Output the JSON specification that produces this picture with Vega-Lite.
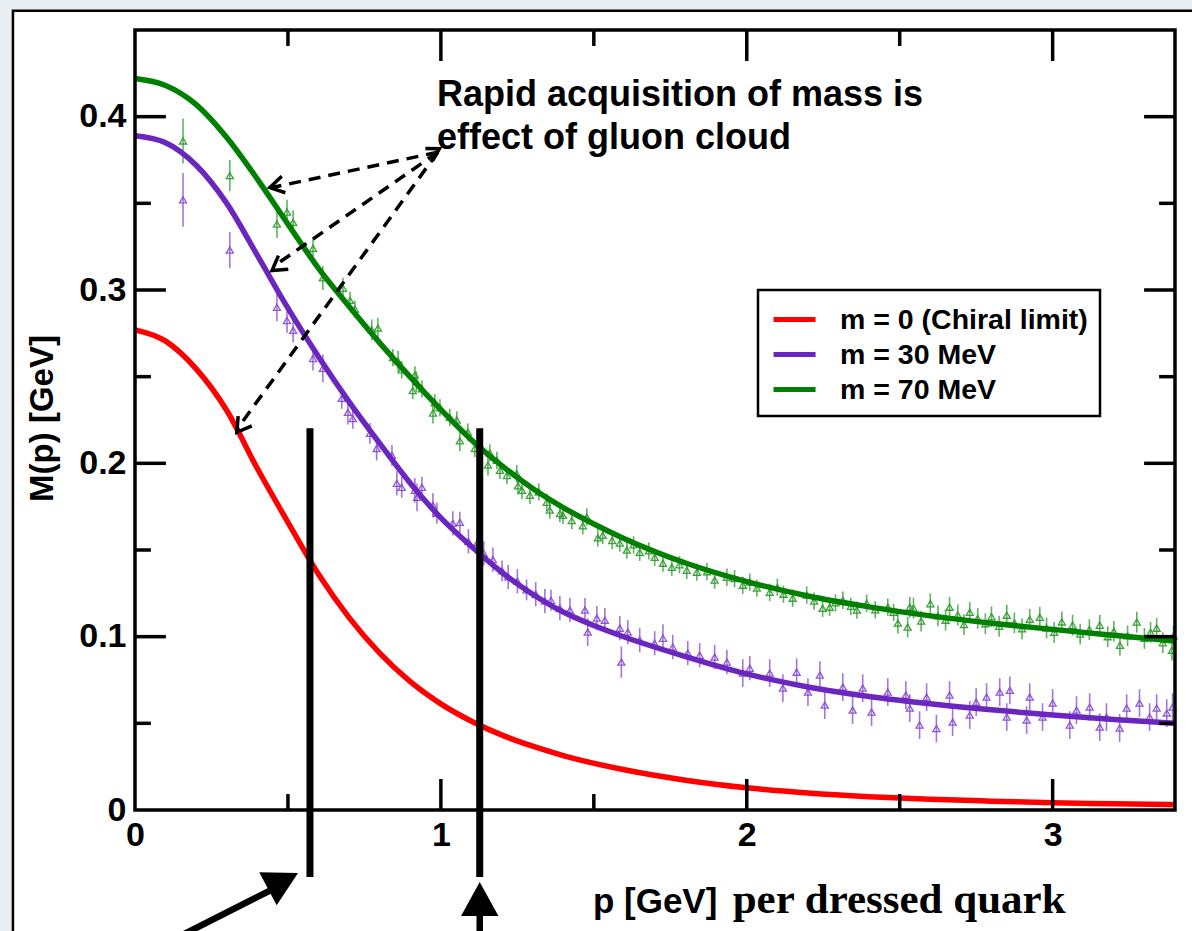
{
  "$schema": "https://vega.github.io/schema/vega-lite/v6.json",
  "width": 1040,
  "height": 780,
  "autosize": {"type": "none"},
  "padding": {"left": 135, "top": 30, "right": 17, "bottom": 121},
  "background": "#e8eef2",
  "config": {"view": {"stroke": null}, "font": "Liberation Sans"},
  "data": {"values": [{}]},
  "datasets": {
    "curves": [
      {"m": "m = 0 (Chiral limit)", "p": 0, "M": 0.277},
      {"m": "m = 0 (Chiral limit)", "p": 0.1, "M": 0.2705},
      {"m": "m = 0 (Chiral limit)", "p": 0.2, "M": 0.2545},
      {"m": "m = 0 (Chiral limit)", "p": 0.3, "M": 0.2305},
      {"m": "m = 0 (Chiral limit)", "p": 0.4, "M": 0.197},
      {"m": "m = 0 (Chiral limit)", "p": 0.5, "M": 0.166},
      {"m": "m = 0 (Chiral limit)", "p": 0.6, "M": 0.136},
      {"m": "m = 0 (Chiral limit)", "p": 0.7, "M": 0.111},
      {"m": "m = 0 (Chiral limit)", "p": 0.8, "M": 0.0905},
      {"m": "m = 0 (Chiral limit)", "p": 0.9, "M": 0.074},
      {"m": "m = 0 (Chiral limit)", "p": 1.0, "M": 0.0612},
      {"m": "m = 0 (Chiral limit)", "p": 1.1, "M": 0.0512},
      {"m": "m = 0 (Chiral limit)", "p": 1.2, "M": 0.0432},
      {"m": "m = 0 (Chiral limit)", "p": 1.3, "M": 0.0368},
      {"m": "m = 0 (Chiral limit)", "p": 1.4, "M": 0.0314},
      {"m": "m = 0 (Chiral limit)", "p": 1.6, "M": 0.0232},
      {"m": "m = 0 (Chiral limit)", "p": 1.8, "M": 0.0172},
      {"m": "m = 0 (Chiral limit)", "p": 2.0, "M": 0.0128},
      {"m": "m = 0 (Chiral limit)", "p": 2.2, "M": 0.0098},
      {"m": "m = 0 (Chiral limit)", "p": 2.4, "M": 0.0077},
      {"m": "m = 0 (Chiral limit)", "p": 2.6, "M": 0.0062},
      {"m": "m = 0 (Chiral limit)", "p": 2.8, "M": 0.0051},
      {"m": "m = 0 (Chiral limit)", "p": 3.0, "M": 0.0042},
      {"m": "m = 0 (Chiral limit)", "p": 3.2, "M": 0.0036},
      {"m": "m = 0 (Chiral limit)", "p": 3.4, "M": 0.0031},
      {"m": "m = 30 MeV", "p": 0, "M": 0.389},
      {"m": "m = 30 MeV", "p": 0.1, "M": 0.385},
      {"m": "m = 30 MeV", "p": 0.2, "M": 0.372},
      {"m": "m = 30 MeV", "p": 0.3, "M": 0.35},
      {"m": "m = 30 MeV", "p": 0.4, "M": 0.32},
      {"m": "m = 30 MeV", "p": 0.5, "M": 0.2895},
      {"m": "m = 30 MeV", "p": 0.6, "M": 0.2615},
      {"m": "m = 30 MeV", "p": 0.7, "M": 0.2355},
      {"m": "m = 30 MeV", "p": 0.8, "M": 0.2115},
      {"m": "m = 30 MeV", "p": 0.9, "M": 0.1885},
      {"m": "m = 30 MeV", "p": 1.0, "M": 0.1685},
      {"m": "m = 30 MeV", "p": 1.1, "M": 0.152},
      {"m": "m = 30 MeV", "p": 1.2, "M": 0.137},
      {"m": "m = 30 MeV", "p": 1.3, "M": 0.1245},
      {"m": "m = 30 MeV", "p": 1.4, "M": 0.1142},
      {"m": "m = 30 MeV", "p": 1.5, "M": 0.1064},
      {"m": "m = 30 MeV", "p": 1.6, "M": 0.0998},
      {"m": "m = 30 MeV", "p": 1.8, "M": 0.0885},
      {"m": "m = 30 MeV", "p": 2.0, "M": 0.0785},
      {"m": "m = 30 MeV", "p": 2.2, "M": 0.071},
      {"m": "m = 30 MeV", "p": 2.4, "M": 0.0655},
      {"m": "m = 30 MeV", "p": 2.6, "M": 0.0613},
      {"m": "m = 30 MeV", "p": 2.8, "M": 0.0578},
      {"m": "m = 30 MeV", "p": 3.0, "M": 0.0548},
      {"m": "m = 30 MeV", "p": 3.2, "M": 0.0522},
      {"m": "m = 30 MeV", "p": 3.4, "M": 0.05},
      {"m": "m = 70 MeV", "p": 0, "M": 0.422},
      {"m": "m = 70 MeV", "p": 0.1, "M": 0.418},
      {"m": "m = 70 MeV", "p": 0.2, "M": 0.407},
      {"m": "m = 70 MeV", "p": 0.3, "M": 0.388},
      {"m": "m = 70 MeV", "p": 0.4, "M": 0.364},
      {"m": "m = 70 MeV", "p": 0.5, "M": 0.338},
      {"m": "m = 70 MeV", "p": 0.6, "M": 0.3125},
      {"m": "m = 70 MeV", "p": 0.7, "M": 0.2905},
      {"m": "m = 70 MeV", "p": 0.8, "M": 0.2695},
      {"m": "m = 70 MeV", "p": 0.9, "M": 0.2497},
      {"m": "m = 70 MeV", "p": 1.0, "M": 0.231},
      {"m": "m = 70 MeV", "p": 1.1, "M": 0.2135},
      {"m": "m = 70 MeV", "p": 1.2, "M": 0.1985},
      {"m": "m = 70 MeV", "p": 1.3, "M": 0.1855},
      {"m": "m = 70 MeV", "p": 1.4, "M": 0.1745},
      {"m": "m = 70 MeV", "p": 1.5, "M": 0.165},
      {"m": "m = 70 MeV", "p": 1.6, "M": 0.1565},
      {"m": "m = 70 MeV", "p": 1.8, "M": 0.1425},
      {"m": "m = 70 MeV", "p": 2.0, "M": 0.1318},
      {"m": "m = 70 MeV", "p": 2.2, "M": 0.1235},
      {"m": "m = 70 MeV", "p": 2.4, "M": 0.1172},
      {"m": "m = 70 MeV", "p": 2.6, "M": 0.112},
      {"m": "m = 70 MeV", "p": 2.8, "M": 0.1078},
      {"m": "m = 70 MeV", "p": 3.0, "M": 0.1042},
      {"m": "m = 70 MeV", "p": 3.2, "M": 0.1008},
      {"m": "m = 70 MeV", "p": 3.4, "M": 0.0975}
    ],
    "lattice": [
      {"m": "m = 70 MeV", "p": 0.157, "M": 0.386, "err": 0.013},
      {"m": "m = 70 MeV", "p": 0.31, "M": 0.366, "err": 0.009},
      {"m": "m = 70 MeV", "p": 0.464, "M": 0.338, "err": 0.008},
      {"m": "m = 70 MeV", "p": 0.497, "M": 0.345, "err": 0.007},
      {"m": "m = 70 MeV", "p": 0.517, "M": 0.339, "err": 0.007},
      {"m": "m = 70 MeV", "p": 0.582, "M": 0.324, "err": 0.006},
      {"m": "m = 70 MeV", "p": 0.614, "M": 0.307, "err": 0.007},
      {"m": "m = 70 MeV", "p": 0.68, "M": 0.301, "err": 0.006},
      {"m": "m = 70 MeV", "p": 0.703, "M": 0.294, "err": 0.005},
      {"m": "m = 70 MeV", "p": 0.719, "M": 0.289, "err": 0.005},
      {"m": "m = 70 MeV", "p": 0.774, "M": 0.277, "err": 0.006},
      {"m": "m = 70 MeV", "p": 0.794, "M": 0.278, "err": 0.006},
      {"m": "m = 70 MeV", "p": 0.843, "M": 0.261, "err": 0.005},
      {"m": "m = 70 MeV", "p": 0.86, "M": 0.259, "err": 0.006},
      {"m": "m = 70 MeV", "p": 0.872, "M": 0.254, "err": 0.005},
      {"m": "m = 70 MeV", "p": 0.908, "M": 0.242, "err": 0.005},
      {"m": "m = 70 MeV", "p": 0.915, "M": 0.251, "err": 0.005},
      {"m": "m = 70 MeV", "p": 0.92, "M": 0.247, "err": 0.006},
      {"m": "m = 70 MeV", "p": 0.938, "M": 0.243, "err": 0.005},
      {"m": "m = 70 MeV", "p": 0.974, "M": 0.229, "err": 0.006},
      {"m": "m = 70 MeV", "p": 0.98, "M": 0.235, "err": 0.005},
      {"m": "m = 70 MeV", "p": 0.997, "M": 0.232, "err": 0.005},
      {"m": "m = 70 MeV", "p": 1.029, "M": 0.2265, "err": 0.005},
      {"m": "m = 70 MeV", "p": 1.052, "M": 0.225, "err": 0.005},
      {"m": "m = 70 MeV", "p": 1.062, "M": 0.213, "err": 0.006},
      {"m": "m = 70 MeV", "p": 1.088, "M": 0.218, "err": 0.005},
      {"m": "m = 70 MeV", "p": 1.111, "M": 0.2086, "err": 0.005},
      {"m": "m = 70 MeV", "p": 1.154, "M": 0.199, "err": 0.006},
      {"m": "m = 70 MeV", "p": 1.16, "M": 0.206, "err": 0.005},
      {"m": "m = 70 MeV", "p": 1.183, "M": 0.2017, "err": 0.005},
      {"m": "m = 70 MeV", "p": 1.193, "M": 0.196, "err": 0.005},
      {"m": "m = 70 MeV", "p": 1.216, "M": 0.193, "err": 0.005},
      {"m": "m = 70 MeV", "p": 1.248, "M": 0.194, "err": 0.005},
      {"m": "m = 70 MeV", "p": 1.252, "M": 0.187, "err": 0.005},
      {"m": "m = 70 MeV", "p": 1.265, "M": 0.1844, "err": 0.005},
      {"m": "m = 70 MeV", "p": 1.291, "M": 0.1816, "err": 0.005},
      {"m": "m = 70 MeV", "p": 1.32, "M": 0.1835, "err": 0.005},
      {"m": "m = 70 MeV", "p": 1.346, "M": 0.1775, "err": 0.005},
      {"m": "m = 70 MeV", "p": 1.356, "M": 0.173, "err": 0.005},
      {"m": "m = 70 MeV", "p": 1.389, "M": 0.171, "err": 0.005},
      {"m": "m = 70 MeV", "p": 1.399, "M": 0.17, "err": 0.005},
      {"m": "m = 70 MeV", "p": 1.428, "M": 0.167, "err": 0.005},
      {"m": "m = 70 MeV", "p": 1.464, "M": 0.164, "err": 0.005},
      {"m": "m = 70 MeV", "p": 1.477, "M": 0.169, "err": 0.005},
      {"m": "m = 70 MeV", "p": 1.513, "M": 0.157, "err": 0.005},
      {"m": "m = 70 MeV", "p": 1.529, "M": 0.1585, "err": 0.005},
      {"m": "m = 70 MeV", "p": 1.56, "M": 0.1555, "err": 0.005},
      {"m": "m = 70 MeV", "p": 1.585, "M": 0.154, "err": 0.005},
      {"m": "m = 70 MeV", "p": 1.608, "M": 0.15, "err": 0.005},
      {"m": "m = 70 MeV", "p": 1.63, "M": 0.153, "err": 0.005},
      {"m": "m = 70 MeV", "p": 1.65, "M": 0.1487, "err": 0.005},
      {"m": "m = 70 MeV", "p": 1.68, "M": 0.1495, "err": 0.005},
      {"m": "m = 70 MeV", "p": 1.699, "M": 0.1458, "err": 0.005},
      {"m": "m = 70 MeV", "p": 1.726, "M": 0.1424, "err": 0.005},
      {"m": "m = 70 MeV", "p": 1.755, "M": 0.14, "err": 0.005},
      {"m": "m = 70 MeV", "p": 1.78, "M": 0.1415, "err": 0.005},
      {"m": "m = 70 MeV", "p": 1.804, "M": 0.1383, "err": 0.005},
      {"m": "m = 70 MeV", "p": 1.837, "M": 0.1372, "err": 0.005},
      {"m": "m = 70 MeV", "p": 1.87, "M": 0.1375, "err": 0.005},
      {"m": "m = 70 MeV", "p": 1.895, "M": 0.1326, "err": 0.005},
      {"m": "m = 70 MeV", "p": 1.935, "M": 0.1343, "err": 0.005},
      {"m": "m = 70 MeV", "p": 1.96, "M": 0.1335, "err": 0.005},
      {"m": "m = 70 MeV", "p": 1.987, "M": 0.1297, "err": 0.005},
      {"m": "m = 70 MeV", "p": 2.01, "M": 0.1315, "err": 0.005},
      {"m": "m = 70 MeV", "p": 2.033, "M": 0.128, "err": 0.005},
      {"m": "m = 70 MeV", "p": 2.075, "M": 0.1256, "err": 0.005},
      {"m": "m = 70 MeV", "p": 2.1, "M": 0.1285, "err": 0.005},
      {"m": "m = 70 MeV", "p": 2.12, "M": 0.1245, "err": 0.005},
      {"m": "m = 70 MeV", "p": 2.15, "M": 0.1222, "err": 0.005},
      {"m": "m = 70 MeV", "p": 2.196, "M": 0.124, "err": 0.005},
      {"m": "m = 70 MeV", "p": 2.22, "M": 0.1205, "err": 0.005},
      {"m": "m = 70 MeV", "p": 2.248, "M": 0.1164, "err": 0.005},
      {"m": "m = 70 MeV", "p": 2.271, "M": 0.117, "err": 0.005},
      {"m": "m = 70 MeV", "p": 2.29, "M": 0.1195, "err": 0.005},
      {"m": "m = 70 MeV", "p": 2.314, "M": 0.121, "err": 0.005},
      {"m": "m = 70 MeV", "p": 2.34, "M": 0.1175, "err": 0.005},
      {"m": "m = 70 MeV", "p": 2.36, "M": 0.1153, "err": 0.005},
      {"m": "m = 70 MeV", "p": 2.392, "M": 0.1193, "err": 0.005},
      {"m": "m = 70 MeV", "p": 2.42, "M": 0.1155, "err": 0.005},
      {"m": "m = 70 MeV", "p": 2.461, "M": 0.117, "err": 0.005},
      {"m": "m = 70 MeV", "p": 2.48, "M": 0.114, "err": 0.005},
      {"m": "m = 70 MeV", "p": 2.494, "M": 0.1078, "err": 0.006},
      {"m": "m = 70 MeV", "p": 2.526, "M": 0.1055, "err": 0.006},
      {"m": "m = 70 MeV", "p": 2.533, "M": 0.117, "err": 0.006},
      {"m": "m = 70 MeV", "p": 2.545, "M": 0.1165, "err": 0.006},
      {"m": "m = 70 MeV", "p": 2.57, "M": 0.109, "err": 0.006},
      {"m": "m = 70 MeV", "p": 2.6, "M": 0.119, "err": 0.006},
      {"m": "m = 70 MeV", "p": 2.625, "M": 0.112, "err": 0.006},
      {"m": "m = 70 MeV", "p": 2.65, "M": 0.1095, "err": 0.006},
      {"m": "m = 70 MeV", "p": 2.663, "M": 0.117, "err": 0.006},
      {"m": "m = 70 MeV", "p": 2.69, "M": 0.1125, "err": 0.006},
      {"m": "m = 70 MeV", "p": 2.71, "M": 0.107, "err": 0.006},
      {"m": "m = 70 MeV", "p": 2.729, "M": 0.114, "err": 0.006},
      {"m": "m = 70 MeV", "p": 2.755, "M": 0.1105, "err": 0.006},
      {"m": "m = 70 MeV", "p": 2.78, "M": 0.1075, "err": 0.006},
      {"m": "m = 70 MeV", "p": 2.8, "M": 0.1115, "err": 0.006},
      {"m": "m = 70 MeV", "p": 2.825, "M": 0.106, "err": 0.006},
      {"m": "m = 70 MeV", "p": 2.85, "M": 0.1124, "err": 0.006},
      {"m": "m = 70 MeV", "p": 2.875, "M": 0.108, "err": 0.006},
      {"m": "m = 70 MeV", "p": 2.9, "M": 0.1045, "err": 0.006},
      {"m": "m = 70 MeV", "p": 2.925, "M": 0.11, "err": 0.006},
      {"m": "m = 70 MeV", "p": 2.958, "M": 0.1112, "err": 0.006},
      {"m": "m = 70 MeV", "p": 2.98, "M": 0.105, "err": 0.006},
      {"m": "m = 70 MeV", "p": 3.005, "M": 0.1025, "err": 0.006},
      {"m": "m = 70 MeV", "p": 3.03, "M": 0.1085, "err": 0.006},
      {"m": "m = 70 MeV", "p": 3.065, "M": 0.1066, "err": 0.006},
      {"m": "m = 70 MeV", "p": 3.09, "M": 0.1015, "err": 0.006},
      {"m": "m = 70 MeV", "p": 3.12, "M": 0.104, "err": 0.006},
      {"m": "m = 70 MeV", "p": 3.154, "M": 0.1066, "err": 0.006},
      {"m": "m = 70 MeV", "p": 3.18, "M": 0.1, "err": 0.006},
      {"m": "m = 70 MeV", "p": 3.2, "M": 0.103, "err": 0.006},
      {"m": "m = 70 MeV", "p": 3.22, "M": 0.095, "err": 0.006},
      {"m": "m = 70 MeV", "p": 3.245, "M": 0.1005, "err": 0.006},
      {"m": "m = 70 MeV", "p": 3.275, "M": 0.1084, "err": 0.006},
      {"m": "m = 70 MeV", "p": 3.3, "M": 0.099, "err": 0.006},
      {"m": "m = 70 MeV", "p": 3.32, "M": 0.1025, "err": 0.006},
      {"m": "m = 70 MeV", "p": 3.34, "M": 0.1049, "err": 0.006},
      {"m": "m = 70 MeV", "p": 3.36, "M": 0.0965, "err": 0.006},
      {"m": "m = 70 MeV", "p": 3.39, "M": 0.0922, "err": 0.006},
      {"m": "m = 70 MeV", "p": 3.395, "M": 0.1005, "err": 0.006},
      {"m": "m = 30 MeV", "p": 0.157, "M": 0.352, "err": 0.0155},
      {"m": "m = 30 MeV", "p": 0.31, "M": 0.323, "err": 0.0105},
      {"m": "m = 30 MeV", "p": 0.464, "M": 0.29, "err": 0.008},
      {"m": "m = 30 MeV", "p": 0.497, "M": 0.2824, "err": 0.007},
      {"m": "m = 30 MeV", "p": 0.517, "M": 0.2767, "err": 0.007},
      {"m": "m = 30 MeV", "p": 0.582, "M": 0.2605, "err": 0.007},
      {"m": "m = 30 MeV", "p": 0.614, "M": 0.2548, "err": 0.008},
      {"m": "m = 30 MeV", "p": 0.676, "M": 0.2375, "err": 0.006},
      {"m": "m = 30 MeV", "p": 0.696, "M": 0.2294, "err": 0.007},
      {"m": "m = 30 MeV", "p": 0.712, "M": 0.2259, "err": 0.006},
      {"m": "m = 30 MeV", "p": 0.768, "M": 0.2173, "err": 0.006},
      {"m": "m = 30 MeV", "p": 0.79, "M": 0.2086, "err": 0.007},
      {"m": "m = 30 MeV", "p": 0.84, "M": 0.2046, "err": 0.006},
      {"m": "m = 30 MeV", "p": 0.856, "M": 0.1885, "err": 0.007},
      {"m": "m = 30 MeV", "p": 0.872, "M": 0.1862, "err": 0.006},
      {"m": "m = 30 MeV", "p": 0.915, "M": 0.1844, "err": 0.007},
      {"m": "m = 30 MeV", "p": 0.922, "M": 0.1804, "err": 0.008},
      {"m": "m = 30 MeV", "p": 0.938, "M": 0.1862, "err": 0.006},
      {"m": "m = 30 MeV", "p": 0.974, "M": 0.1758, "err": 0.007},
      {"m": "m = 30 MeV", "p": 0.987, "M": 0.1712, "err": 0.006},
      {"m": "m = 30 MeV", "p": 1.039, "M": 0.1654, "err": 0.007},
      {"m": "m = 30 MeV", "p": 1.062, "M": 0.166, "err": 0.006},
      {"m": "m = 30 MeV", "p": 1.09, "M": 0.155, "err": 0.007},
      {"m": "m = 30 MeV", "p": 1.12, "M": 0.1545, "err": 0.006},
      {"m": "m = 30 MeV", "p": 1.14, "M": 0.148, "err": 0.007},
      {"m": "m = 30 MeV", "p": 1.17, "M": 0.1445, "err": 0.007},
      {"m": "m = 30 MeV", "p": 1.2, "M": 0.138, "err": 0.006},
      {"m": "m = 30 MeV", "p": 1.22, "M": 0.1345, "err": 0.007},
      {"m": "m = 30 MeV", "p": 1.25, "M": 0.132, "err": 0.007},
      {"m": "m = 30 MeV", "p": 1.28, "M": 0.127, "err": 0.006},
      {"m": "m = 30 MeV", "p": 1.31, "M": 0.1245, "err": 0.007},
      {"m": "m = 30 MeV", "p": 1.34, "M": 0.1205, "err": 0.007},
      {"m": "m = 30 MeV", "p": 1.36, "M": 0.121, "err": 0.006},
      {"m": "m = 30 MeV", "p": 1.389, "M": 0.1164, "err": 0.007},
      {"m": "m = 30 MeV", "p": 1.422, "M": 0.1153, "err": 0.007},
      {"m": "m = 30 MeV", "p": 1.471, "M": 0.1153, "err": 0.007},
      {"m": "m = 30 MeV", "p": 1.48, "M": 0.1026, "err": 0.008},
      {"m": "m = 30 MeV", "p": 1.51, "M": 0.1107, "err": 0.007},
      {"m": "m = 30 MeV", "p": 1.536, "M": 0.1095, "err": 0.007},
      {"m": "m = 30 MeV", "p": 1.585, "M": 0.1049, "err": 0.007},
      {"m": "m = 30 MeV", "p": 1.59, "M": 0.0853, "err": 0.009},
      {"m": "m = 30 MeV", "p": 1.611, "M": 0.1026, "err": 0.007},
      {"m": "m = 30 MeV", "p": 1.65, "M": 0.098, "err": 0.007},
      {"m": "m = 30 MeV", "p": 1.699, "M": 0.0962, "err": 0.007},
      {"m": "m = 30 MeV", "p": 1.726, "M": 0.0991, "err": 0.008},
      {"m": "m = 30 MeV", "p": 1.758, "M": 0.094, "err": 0.007},
      {"m": "m = 30 MeV", "p": 1.807, "M": 0.0905, "err": 0.007},
      {"m": "m = 30 MeV", "p": 1.846, "M": 0.0893, "err": 0.007},
      {"m": "m = 30 MeV", "p": 1.895, "M": 0.0882, "err": 0.007},
      {"m": "m = 30 MeV", "p": 1.935, "M": 0.0853, "err": 0.007},
      {"m": "m = 30 MeV", "p": 1.987, "M": 0.079, "err": 0.008},
      {"m": "m = 30 MeV", "p": 2.01, "M": 0.0818, "err": 0.007},
      {"m": "m = 30 MeV", "p": 2.075, "M": 0.079, "err": 0.008},
      {"m": "m = 30 MeV", "p": 2.118, "M": 0.0703, "err": 0.008},
      {"m": "m = 30 MeV", "p": 2.163, "M": 0.0795, "err": 0.008},
      {"m": "m = 30 MeV", "p": 2.2, "M": 0.068, "err": 0.008},
      {"m": "m = 30 MeV", "p": 2.239, "M": 0.0778, "err": 0.008},
      {"m": "m = 30 MeV", "p": 2.255, "M": 0.0605, "err": 0.008},
      {"m": "m = 30 MeV", "p": 2.314, "M": 0.0709, "err": 0.008},
      {"m": "m = 30 MeV", "p": 2.346, "M": 0.0576, "err": 0.008},
      {"m": "m = 30 MeV", "p": 2.379, "M": 0.0703, "err": 0.008},
      {"m": "m = 30 MeV", "p": 2.408, "M": 0.0565, "err": 0.008},
      {"m": "m = 30 MeV", "p": 2.461, "M": 0.068, "err": 0.008},
      {"m": "m = 30 MeV", "p": 2.52, "M": 0.0663, "err": 0.008},
      {"m": "m = 30 MeV", "p": 2.533, "M": 0.0588, "err": 0.008},
      {"m": "m = 30 MeV", "p": 2.565, "M": 0.049, "err": 0.008},
      {"m": "m = 30 MeV", "p": 2.588, "M": 0.0651, "err": 0.008},
      {"m": "m = 30 MeV", "p": 2.62, "M": 0.047, "err": 0.008},
      {"m": "m = 30 MeV", "p": 2.663, "M": 0.0663, "err": 0.008},
      {"m": "m = 30 MeV", "p": 2.673, "M": 0.0507, "err": 0.008},
      {"m": "m = 30 MeV", "p": 2.729, "M": 0.0548, "err": 0.008},
      {"m": "m = 30 MeV", "p": 2.75, "M": 0.0622, "err": 0.008},
      {"m": "m = 30 MeV", "p": 2.784, "M": 0.0651, "err": 0.008},
      {"m": "m = 30 MeV", "p": 2.827, "M": 0.068, "err": 0.008},
      {"m": "m = 30 MeV", "p": 2.85, "M": 0.0536, "err": 0.008},
      {"m": "m = 30 MeV", "p": 2.86, "M": 0.069, "err": 0.008},
      {"m": "m = 30 MeV", "p": 2.915, "M": 0.0519, "err": 0.008},
      {"m": "m = 30 MeV", "p": 2.925, "M": 0.0651, "err": 0.008},
      {"m": "m = 30 MeV", "p": 2.967, "M": 0.0536, "err": 0.008},
      {"m": "m = 30 MeV", "p": 3.0, "M": 0.0617, "err": 0.008},
      {"m": "m = 30 MeV", "p": 3.056, "M": 0.049, "err": 0.008},
      {"m": "m = 30 MeV", "p": 3.078, "M": 0.0576, "err": 0.008},
      {"m": "m = 30 MeV", "p": 3.121, "M": 0.0594, "err": 0.008},
      {"m": "m = 30 MeV", "p": 3.154, "M": 0.0478, "err": 0.008},
      {"m": "m = 30 MeV", "p": 3.176, "M": 0.0536, "err": 0.008},
      {"m": "m = 30 MeV", "p": 3.219, "M": 0.0473, "err": 0.008},
      {"m": "m = 30 MeV", "p": 3.242, "M": 0.0588, "err": 0.008},
      {"m": "m = 30 MeV", "p": 3.284, "M": 0.0617, "err": 0.008},
      {"m": "m = 30 MeV", "p": 3.317, "M": 0.0536, "err": 0.008},
      {"m": "m = 30 MeV", "p": 3.34, "M": 0.0588, "err": 0.008},
      {"m": "m = 30 MeV", "p": 3.373, "M": 0.0559, "err": 0.008},
      {"m": "m = 30 MeV", "p": 3.392, "M": 0.0594, "err": 0.008}
    ]
  },
  "resolve": {"scale": {"color": "independent"}},
  "layer": [
    {
      "mark": {"type": "rect", "fill": "white", "stroke": "black", "strokeWidth": 2.5},
      "encoding": {
        "x": {"datum": -0.399,
          "scale": {"domain": [0, 3.4], "nice": false, "zero": false},
          "axis": {"values": [0, 1, 2, 3], "format": "d", "title": null, "ticks": false, "domain": false, "grid": false, "zindex": 2,
            "labelFont": "Liberation Sans", "labelFontWeight": "bold", "labelFontSize": 34, "labelColor": "black",
            "labelPadding": 8, "labelFlush": false, "labelOverlap": false}},
        "x2": {"datum": 4.2},
        "y": {"datum": 0.4611,
          "scale": {"domain": [0, 0.45], "nice": false, "zero": false},
          "axis": {"values": [0, 0.1, 0.2, 0.3, 0.4], "zindex": 2,
            "labelExpr": "datum.value == 0 ? '0' : format(datum.value, '.1f')",
            "ticks": false, "domain": false, "grid": false,
            "labelFont": "Liberation Sans", "labelFontWeight": "bold", "labelFontSize": 34, "labelColor": "black",
            "labelPadding": 9, "labelFlush": false, "labelOverlap": false,
            "title": "M(p) [GeV]", "titleX": -93, "titleY": 388, "titleAngle": -90,
            "titleAlign": "center", "titleBaseline": "middle",
            "titleFont": "Liberation Sans", "titleFontWeight": "bold", "titleFontSize": 33, "titleColor": "black"}},
        "y2": {"datum": -0.3}
      }
    },
    {
      "data": {"name": "lattice"},
      "mark": {"type": "errorbar", "ticks": false, "thickness": 1.6, "rule": {"opacity": 0.75}},
      "encoding": {
        "x": {"field": "p", "type": "quantitative", "title": null},
        "y": {"field": "M", "type": "quantitative", "title": "M(p) [GeV]"},
        "yError": {"field": "err"},
        "color": {"field": "m", "type": "nominal", "legend": null,
          "scale": {"domain": ["m = 30 MeV", "m = 70 MeV"], "range": ["#8448cf", "#2a9a2a"]}}
      }
    },
    {
      "data": {"name": "lattice"},
      "mark": {"type": "point", "shape": "triangle-up", "filled": false, "size": 50, "strokeWidth": 1.3, "opacity": 0.9},
      "encoding": {
        "x": {"field": "p", "type": "quantitative", "title": null},
        "y": {"field": "M", "type": "quantitative", "title": "M(p) [GeV]"},
        "color": {"field": "m", "type": "nominal", "legend": null,
          "scale": {"domain": ["m = 30 MeV", "m = 70 MeV"], "range": ["#8448cf", "#2a9a2a"]}}
      }
    },
    {
      "data": {"name": "curves"},
      "mark": {"type": "line", "interpolate": "monotone", "strokeWidth": 5.5},
      "encoding": {
        "x": {"field": "p", "type": "quantitative", "title": null},
        "y": {"field": "M", "type": "quantitative", "title": "M(p) [GeV]"},
        "color": {"field": "m", "type": "nominal",
          "scale": {"domain": ["m = 0 (Chiral limit)", "m = 30 MeV", "m = 70 MeV"], "range": ["#ff0000", "#6a26bf", "#008000"]},
          "legend": {"title": null, "orient": "none", "legendX": 623, "legendY": 260,
            "symbolType": "M-0.93,0H1.87", "symbolSize": 900, "symbolStrokeWidth": 5,
            "labelFont": "Liberation Sans", "labelFontWeight": "bold", "labelFontSize": 28.5, "labelColor": "black",
            "labelOffset": 35, "labelLimit": 400, "padding": 12, "rowPadding": 3,
            "strokeColor": "black", "fillColor": "white", "zindex": 3,
            "encode": {"legend": {"update": {"strokeWidth": {"value": 2.5}}}}}}
      }
    },
    {
      "mark": {"type": "rule", "strokeWidth": 7, "color": "black"},
      "encoding": {"x": {"datum": 0.572}, "y": {"datum": 0.2202}, "y2": {"datum": -0.0386}}
    },
    {
      "mark": {"type": "rule", "strokeWidth": 7, "color": "black"},
      "encoding": {"x": {"datum": 1.127}, "y": {"datum": 0.2202}, "y2": {"datum": -0.0386}}
    },
    {
      "mark": {"type": "rule", "strokeWidth": 3.5, "color": "black", "strokeDash": [12, 8]},
      "encoding": {"x": {"datum": 0.99}, "y": {"datum": 0.3795}, "x2": {"datum": 0.445}, "y2": {"datum": 0.359}}
    },
    {
      "mark": {"type": "rule", "strokeWidth": 3.5, "color": "black", "strokeDash": [12, 8]},
      "encoding": {"x": {"datum": 0.99}, "y": {"datum": 0.3795}, "x2": {"datum": 0.452}, "y2": {"datum": 0.3135}}
    },
    {
      "mark": {"type": "rule", "strokeWidth": 3.5, "color": "black", "strokeDash": [12, 8]},
      "encoding": {"x": {"datum": 0.99}, "y": {"datum": 0.3795}, "x2": {"datum": 0.337}, "y2": {"datum": 0.2205}}
    },
    {
      "mark": {"type": "point", "shape": "M-0.6,1L0,0L0.6,1", "filled": false, "color": "black", "strokeWidth": 3.5, "size": 784, "angle": 257.6, "opacity": 1},
      "encoding": {"x": {"datum": 0.441}, "y": {"datum": 0.3591}}
    },
    {
      "mark": {"type": "point", "shape": "M-0.6,1L0,0L0.6,1", "filled": false, "color": "black", "strokeWidth": 3.5, "size": 784, "angle": 234.1, "opacity": 1},
      "encoding": {"x": {"datum": 0.448}, "y": {"datum": 0.3112}}
    },
    {
      "mark": {"type": "point", "shape": "M-0.6,1L0,0L0.6,1", "filled": false, "color": "black", "strokeWidth": 3.5, "size": 784, "angle": 215.5, "opacity": 1},
      "encoding": {"x": {"datum": 0.333}, "y": {"datum": 0.2179}}
    },
    {
      "mark": {"type": "point", "shape": "M-0.6,1L0,0L0.6,1", "filled": false, "color": "black", "strokeWidth": 3.5, "size": 576, "angle": 60, "opacity": 1},
      "encoding": {"x": {"datum": 0.995}, "y": {"datum": 0.3815}}
    },
    {
      "data": {"values": [{"v": 1}, {"v": 2}, {"v": 3}]},
      "mark": {"type": "rule", "strokeWidth": 3.5, "color": "black"},
      "encoding": {"x": {"field": "v", "type": "quantitative", "title": null}, "y": {"datum": 0}, "y2": {"datum": 0.0179}}
    },
    {
      "data": {"values": [{"v": 0.5}, {"v": 1.5}, {"v": 2.5}]},
      "mark": {"type": "rule", "strokeWidth": 3.5, "color": "black"},
      "encoding": {"x": {"field": "v", "type": "quantitative", "title": null}, "y": {"datum": 0}, "y2": {"datum": 0.0092}}
    },
    {
      "data": {"values": [{"v": 1}, {"v": 2}, {"v": 3}]},
      "mark": {"type": "rule", "strokeWidth": 3.5, "color": "black"},
      "encoding": {"x": {"field": "v", "type": "quantitative", "title": null}, "y": {"datum": 0.45}, "y2": {"datum": 0.4321}}
    },
    {
      "data": {"values": [{"v": 0.5}, {"v": 1.5}, {"v": 2.5}]},
      "mark": {"type": "rule", "strokeWidth": 3.5, "color": "black"},
      "encoding": {"x": {"field": "v", "type": "quantitative", "title": null}, "y": {"datum": 0.45}, "y2": {"datum": 0.4408}}
    },
    {
      "data": {"values": [{"v": 0.1}, {"v": 0.2}, {"v": 0.3}, {"v": 0.4}]},
      "mark": {"type": "rule", "strokeWidth": 3.5, "color": "black"},
      "encoding": {"y": {"field": "v", "type": "quantitative", "title": "M(p) [GeV]"}, "x": {"datum": 0}, "x2": {"datum": 0.101}}
    },
    {
      "data": {"values": [{"v": 0.05}, {"v": 0.15}, {"v": 0.25}, {"v": 0.35}]},
      "mark": {"type": "rule", "strokeWidth": 3.5, "color": "black"},
      "encoding": {"y": {"field": "v", "type": "quantitative", "title": "M(p) [GeV]"}, "x": {"datum": 0}, "x2": {"datum": 0.052}}
    },
    {
      "data": {"values": [{"v": 0.1}, {"v": 0.2}, {"v": 0.3}, {"v": 0.4}]},
      "mark": {"type": "rule", "strokeWidth": 3.5, "color": "black"},
      "encoding": {"y": {"field": "v", "type": "quantitative", "title": "M(p) [GeV]"}, "x": {"datum": 3.4}, "x2": {"datum": 3.299}}
    },
    {
      "data": {"values": [{"v": 0.05}, {"v": 0.15}, {"v": 0.25}, {"v": 0.35}]},
      "mark": {"type": "rule", "strokeWidth": 3.5, "color": "black"},
      "encoding": {"y": {"field": "v", "type": "quantitative", "title": "M(p) [GeV]"}, "x": {"datum": 3.4}, "x2": {"datum": 3.348}}
    },
    {
      "mark": {"type": "rect", "fill": null, "fillOpacity": 0, "stroke": "black", "strokeWidth": 3.5},
      "encoding": {"x": {"datum": 0}, "x2": {"datum": 3.4}, "y": {"datum": 0}, "y2": {"datum": 0.45}}
    },
    {
      "mark": {"type": "text", "text": "Rapid acquisition of mass is", "font": "Liberation Sans", "fontWeight": "bold", "fontSize": 36, "align": "left", "baseline": "alphabetic", "color": "black"},
      "encoding": {"x": {"datum": 0.987}, "y": {"datum": 0.4063}}
    },
    {
      "mark": {"type": "text", "text": "effect of gluon cloud", "font": "Liberation Sans", "fontWeight": "bold", "fontSize": 36, "align": "left", "baseline": "alphabetic", "color": "black"},
      "encoding": {"x": {"datum": 0.987}, "y": {"datum": 0.3815}}
    },
    {
      "mark": {"type": "text", "text": "p [GeV]", "font": "Liberation Sans", "fontWeight": "bold", "fontSize": 35, "align": "left", "baseline": "alphabetic", "color": "black"},
      "encoding": {"x": {"datum": 1.497}, "y": {"datum": -0.0594}}
    },
    {
      "mark": {"type": "text", "text": "per dressed quark", "font": "Liberation Serif", "fontWeight": "bold", "fontSize": 43, "align": "left", "baseline": "alphabetic", "color": "black"},
      "encoding": {"x": {"datum": 1.954}, "y": {"datum": -0.0594}}
    },
    {
      "mark": {"type": "rule", "strokeWidth": 6.5, "color": "black"},
      "encoding": {"x": {"datum": -0.0065}, "y": {"datum": -0.0865}, "x2": {"datum": 0.48}, "y2": {"datum": -0.043}}
    },
    {
      "mark": {"type": "point", "shape": "M0,0L0.55,1L-0.55,1Z", "filled": true, "color": "black", "size": 4624, "angle": 62.2, "opacity": 1},
      "encoding": {"x": {"datum": 0.533}, "y": {"datum": -0.0363}}
    },
    {
      "mark": {"type": "rule", "strokeWidth": 6.5, "color": "black"},
      "encoding": {"x": {"datum": 1.127}, "y": {"datum": -0.1}, "y2": {"datum": -0.06}}
    },
    {
      "mark": {"type": "point", "shape": "M0,0L0.55,1L-0.55,1Z", "filled": true, "color": "black", "size": 4624, "angle": 0, "opacity": 1},
      "encoding": {"x": {"datum": 1.127}, "y": {"datum": -0.0415}}
    }
  ]
}
